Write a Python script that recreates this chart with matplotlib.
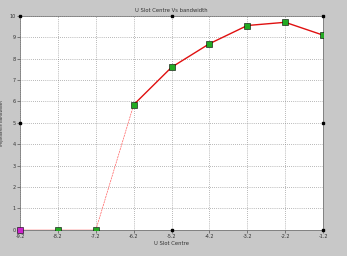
import matplotlib

matplotlib.use("Agg")
import matplotlib.pyplot as plt

# -- Data --------------------------------------------------------------------
slot_centre = [-9.2, -8.2, -7.2, -6.2, -5.2, -4.2, -3.2, -2.2, -1.2]
bandwidth = [0.0, 0.0, 0.0, 5.85, 7.6, 8.7, 9.55, 9.7, 9.1]
x_tick_labels = ["-9.2", "-8.2", "-7.2", "-6.2", "-5.2", "-4.2", "-3.2", "-2.2", "-1.2"]
y_ticks = list(range(0, 11))

fig = plt.figure(figsize=(3.47, 2.56), dpi=100, facecolor="#c8c8c8")
ax = fig.add_axes([0.058, 0.102, 0.873, 0.836])
ax.set_facecolor("white")

# flat part and rising part, the jump is drawn thin
ax.plot(slot_centre[:3], bandwidth[:3], color="#ff3030", lw=1.0, zorder=3)
ax.plot(slot_centre[2:4], bandwidth[2:4], color="#ff6060", lw=0.5, ls=(0, (3, 1)), zorder=3)
ax.plot(slot_centre[3:], bandwidth[3:], color="#e01010", lw=1.0, zorder=3)
ax.plot(slot_centre[1:], bandwidth[1:], ls="none", marker="s", ms=3.8,
        mfc="#22aa22", mec="black", mew=0.4, zorder=4)
ax.plot(slot_centre[:1], bandwidth[:1], ls="none", marker="s", ms=3.8,
        mfc="#cc22cc", mec="black", mew=0.4, zorder=4, clip_on=False)

ax.set_xlim(slot_centre[0], slot_centre[-1])
ax.set_ylim(0, 10)
ax.set_xticks(slot_centre)
ax.set_xticklabels(x_tick_labels)
ax.set_yticks(y_ticks)
ax.tick_params(labelsize=3.5, length=2, width=0.4, pad=1, colors="#333333")
ax.grid(True, ls=(0, (1, 2)), color="#777777", lw=0.5)
for s in ax.spines.values():
    s.set_linewidth(0.5)
    s.set_color("#666666")

ax.set_title("U Slot Centre Vs bandwidth", fontsize=3.8, pad=3, color="#333333")
ax.set_xlabel("U Slot Centre", fontsize=3.8, labelpad=1.5, color="#333333")
ax.set_ylabel("Impedance bandwidth", fontsize=3.0, labelpad=4, color="#333333")

# selection handles round the axes box
for hx, hy in [(0, 1), (0.5, 1), (1, 1), (1, 0.5), (1, 0), (0.5, 0), (0, 0.5)]:
    ax.plot(hx, hy, marker="s", ms=2, color="black", transform=ax.transAxes,
            clip_on=False, zorder=5)

fig.savefig("out.png", dpi=100, facecolor=fig.get_facecolor())
